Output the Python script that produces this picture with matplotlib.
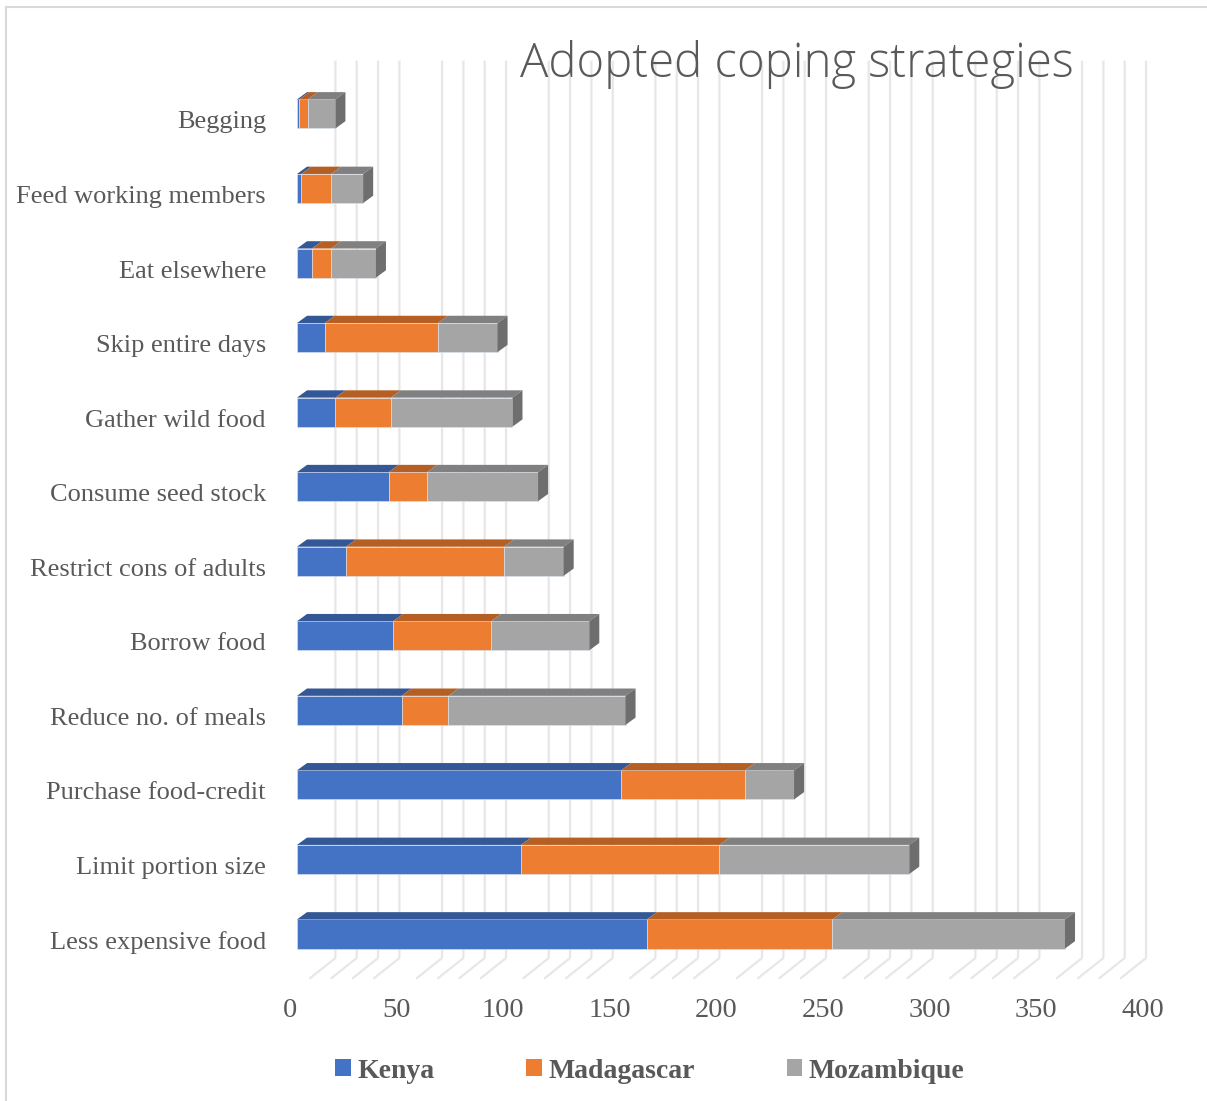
import matplotlib
matplotlib.use("Agg")
import matplotlib.pyplot as plt
from matplotlib.patches import Polygon, Patch
from matplotlib.lines import Line2D

# data, bottom row first
strategies = ["Less expensive food", "Limit portion size", "Purchase food-credit",
              "Reduce no. of meals", "Borrow food", "Restrict cons of adults",
              "Consume seed stock", "Gather wild food", "Skip entire days",
              "Eat elsewhere", "Feed working members", "Begging"]
kenya = [164, 105, 152, 49, 45, 23, 43, 18, 13, 7, 2, 1]
madagascar = [87, 93, 58, 22, 46, 74, 18, 26, 53, 9, 14, 4]
mozambique = [109, 89, 23, 83, 46, 28, 52, 57, 28, 21, 15, 13]
countries = ["Kenya", "Madagascar", "Mozambique"]
x_ticks = [0, 50, 100, 150, 200, 250, 300, 350, 400]

front = ["#4472C4", "#ED7D31", "#A5A5A5"]
top = ["#335895", "#B65F24", "#808080"]
side = "#6E6E6E"
grey = "#595959"

W, H = 1207, 1101
fig = plt.figure(figsize=(W / 100, H / 100), dpi=100)

# axes placed so that value 0 sits at x=297px, rows 74.55px apart
x0_px, ppu = 297, 2.1333
xlo, xhi = -10, 410
ylo, yhi = -0.75, 11.85
row0_px, row_px = 934, 74.55
left = (x0_px + xlo * ppu) / W
width = (xhi - xlo) * ppu / W
top_px = row0_px - yhi * row_px
bot_px = row0_px - ylo * row_px
ax = fig.add_axes([left, 1 - bot_px / H, width, (bot_px - top_px) / H])
ax.set_xlim(xlo, xhi)
ax.set_ylim(ylo, yhi)

# back wall and floor gridlines
wall, floor = 8.0, -3.75
for v in range(10, 400, 10):
    if v % 50 == 0:
        continue
    ax.add_line(Line2D([v + floor, v + wall, v + wall], [-0.59, -0.322, 11.70],
                       color="#e7e7e7", lw=1.6, zorder=1))

# 3D stacked bars
bh = 0.39
dx, dy = 4.7, 0.098
rows = range(len(strategies))
series = [kenya, madagascar, mozambique]
for i in rows:
    start = 0
    for s, vals in enumerate(series):
        w = vals[i]
        yb, yt = i - bh / 2, i + bh / 2
        ax.barh(i, w, left=start, height=bh, color=front[s],
                edgecolor="#dfe6f2", linewidth=0.4, zorder=3)
        ax.add_patch(Polygon([(start, yt), (start + w, yt), (start + w + dx, yt + dy),
                              (start + dx, yt + dy)], closed=True,
                             facecolor=top[s], edgecolor="none", zorder=3))
        start += w
    ax.add_patch(Polygon([(start, yb), (start, yt), (start + dx, yt + dy),
                          (start + dx, yb + dy)], closed=True,
                         facecolor=side, edgecolor="none", zorder=3))

ax.set_yticks([i - 0.08 for i in rows], strategies)
ax.set_xticks([v - 3.4 for v in x_ticks], [str(v) for v in x_ticks])
ax.tick_params(axis="y", length=0, pad=7, labelsize=19, labelcolor=grey)
ax.tick_params(axis="x", length=0, pad=6, labelsize=20.5, labelcolor=grey)
for lab in ax.get_xticklabels() + ax.get_yticklabels():
    lab.set_family("Liberation Serif")
for sp in ax.spines.values():
    sp.set_visible(False)

fig.text(797 / W, 1 - 77 / H, "Adopted coping strategies", ha="center",
         va="baseline", fontsize=34, color=grey, family="Open Sans",
         fontweight="light")

handles = [Patch(facecolor=c, label=n) for c, n in zip(front, countries)]
fig.legend(handles=handles, loc="center", bbox_to_anchor=(650 / W, 1 - 1071 / H),
           ncol=3, frameon=False, handlelength=0.55, handleheight=0.55,
           handletextpad=0.25, columnspacing=3.3,
           prop={"family": "Liberation Serif", "weight": "bold", "size": 20},
           labelcolor=grey)

# chart frame
fig.add_artist(Line2D([6 / W, 6 / W], [0, 1 - 7 / H], color="#d9d9d9", lw=1.5))
fig.add_artist(Line2D([6 / W, 1], [1 - 7 / H, 1 - 7 / H], color="#d9d9d9", lw=1.5))

fig.savefig("out.png", dpi=100)
